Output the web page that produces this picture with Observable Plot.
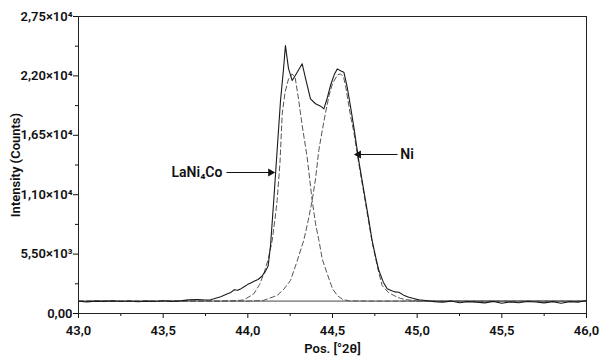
<!DOCTYPE html>
<html>
<head>
<meta charset="utf-8">
<script src="https://cdn.jsdelivr.net/npm/d3@7"></script>
<script src="https://cdn.jsdelivr.net/npm/@observablehq/plot@0.6"></script>
<style>
  html, body { margin: 0; padding: 0; background: #fff; }
</style>
</head>
<body>
<div id="chart"></div>
<script>
// Measured pattern (solid)
const measX = [43.00,43.05,43.10,43.15,43.20,43.25,43.30,43.35,43.40,43.45,43.50,43.55,43.60,43.65,43.70,43.75,43.78,43.80,43.84,43.88,43.90,43.92,43.94,43.96,43.98,44.00,44.02,44.04,44.06,44.08,44.10,44.12,44.134,44.153,44.173,44.193,44.21,44.222,44.24,44.262,44.29,44.321,44.345,44.37,44.40,44.43,44.449,44.47,44.488,44.51,44.528,44.55,44.567,44.587,44.606,44.626,44.655,44.675,44.695,44.715,44.734,44.754,44.774,44.80,44.823,44.85,44.87,44.892,44.92,44.951,44.98,45.01,45.05,45.10,45.15,45.20,45.25,45.30,45.35,45.40,45.45,45.50,45.55,45.60,45.65,45.70,45.75,45.80,45.85,45.90,45.95,46.00];
const measY = [1130,1080,1150,1120,1170,1110,1160,1090,1150,1110,1180,1120,1170,1260,1300,1250,1280,1360,1550,1820,1950,2200,2150,2300,2500,2700,2850,3000,3150,3400,3800,4400,6300,10460,15090,19720,22500,24800,22700,21570,22300,23120,21500,19880,19420,19200,18950,20000,21110,22100,22650,22450,22340,20950,19200,17250,14170,12300,10460,8600,6760,5300,3980,2900,2290,2100,2000,1970,1700,1510,1380,1270,1200,1100,1050,1150,1000,1100,1050,980,1120,950,1080,1000,1120,1060,980,1100,950,1100,1050,1200];

// Fitted LaNi4Co peak (dashed)
const laX = [43.00,43.80,43.90,43.976,44.035,44.07,44.094,44.12,44.144,44.16,44.173,44.19,44.203,44.22,44.24,44.262,44.28,44.30,44.32,44.35,44.38,44.40,44.42,44.44,44.469,44.50,44.528,44.56,44.60,44.70,46.00];
const laY = [1150,1150,1170,1250,1820,2700,3670,5000,6760,8700,10460,14000,18490,20500,21700,22190,21800,19800,17500,14500,10460,8300,6760,5000,3670,2300,1670,1300,1170,1150,1150];

// Fitted Ni peak (dashed)
const niX = [43.00,44.00,44.09,44.173,44.21,44.252,44.29,44.33,44.355,44.38,44.40,44.419,44.44,44.459,44.48,44.50,44.53,44.547,44.565,44.577,44.606,44.626,44.655,44.695,44.734,44.77,44.793,44.83,44.862,44.90,44.94,45.00,45.10,46.00];
const niY = [1150,1150,1200,1670,2200,3060,4800,6760,8500,10460,12500,15090,17000,18600,20200,21300,22100,22190,21900,21110,18330,16800,13900,10200,6600,4000,2600,1950,1670,1400,1270,1170,1150,1150];

// Background line
const baseX = [43.0, 46.0];
const baseY = [1150, 1150];

// Axis ticks
const xMajor = [43, 43.5, 44, 44.5, 45, 45.5, 46];
const xMajorLabels = ["43,0","43,5","44,0","44,5","45,0","45,5","46,0"];
const xMinor = [43.25, 43.75, 44.25, 44.75, 45.25, 45.75];
const yMajor = [0, 5500, 11000, 16500, 22000, 27500];
const yMajorLabels = ["0,00","5,50×10³","1,10×10⁴","1,65×10⁴","2,20×10⁴","2,75×10⁴"];
const yMinor = [2750, 8250, 13750, 19250, 24750];

// Annotations
const annLabels = ["LaNi₄Co", "Ni"];
const annTextX = [43.85, 44.90];
const annY = [13055, 14720];
const annFromX = [43.874, 44.884];
const annTipX = [44.134, 44.654];

const toRows = (xs, ys) => xs.map((x, i) => ({x, y: ys[i]}));
const meas = toRows(measX, measY);
const la = toRows(laX, laY);
const ni = toRows(niX, niY);
const base = toRows(baseX, baseY);
const ann = annLabels.map((t, i) => ({
  t, tx: annTextX[i], y: annY[i], x1: annFromX[i], x2: annTipX[i],
  dir: i === 0 ? 1 : -1
}));

const font = "Roboto, 'DejaVu Sans', sans-serif";

const chart = Plot.plot({
  width: 605,
  height: 364,
  marginLeft: 78,
  marginRight: 19,
  marginTop: 16,
  marginBottom: 51,
  style: {fontFamily: font, fontSize: "13px", fontWeight: 500, color: "#111", background: "#fff"},
  x: {domain: [43, 46]},
  y: {domain: [0, 27500]},
  marks: [
    Plot.axisX(xMajor, {tickSize: 5, tickPadding: 7, tickFormat: d => xMajorLabels[xMajor.indexOf(d)],
      label: "Pos. [°2θ]", labelAnchor: "center", labelOffset: 39, labelArrow: "none", fontWeight: 600}),
    Plot.axisX(xMinor, {tickSize: 3, tickFormat: () => "", label: null}),
    Plot.axisY(yMajor, {tickSize: 5, tickPadding: 1, tickFormat: d => yMajorLabels[yMajor.indexOf(d)],
      label: "Intensity (Counts)", labelAnchor: "center", labelOffset: 68, labelArrow: "none", fontWeight: 600}),
    Plot.axisY(yMinor, {tickSize: 3, tickFormat: () => "", label: null}),
    Plot.line(base, {x: "x", y: "y", stroke: "#333", strokeWidth: 0.9}),
    Plot.line(la, {x: "x", y: "y", stroke: "#555", strokeWidth: 1, strokeDasharray: "5,3"}),
    Plot.line(ni, {x: "x", y: "y", stroke: "#555", strokeWidth: 1, strokeDasharray: "5,3"}),
    Plot.line(meas, {x: "x", y: "y", stroke: "#1a1a1a", strokeWidth: 1.1, curve: "linear"}),
    Plot.link(ann, {x1: "x1", y1: "y", x2: "x2", y2: "y", stroke: "#111", strokeWidth: 1.1}),
    Plot.dot(ann, {x: "x2", y: "y", symbol: "triangle", r: 3, fill: "#111", stroke: null,
      rotate: d => d.dir * 90}),
    Plot.text(ann.filter(d => d.dir === 1), {x: "tx", y: "y", text: "t", textAnchor: "end", fontSize: 14, fontWeight: 600, fill: "#111"}),
    Plot.text(ann.filter(d => d.dir === -1), {x: "tx", y: "y", text: "t", textAnchor: "start", fontSize: 14, fontWeight: 600, fill: "#111"}),
    Plot.frame({stroke: "#222", strokeWidth: 1})
  ]
});
document.getElementById("chart").appendChild(chart);
</script>
</body>
</html>
